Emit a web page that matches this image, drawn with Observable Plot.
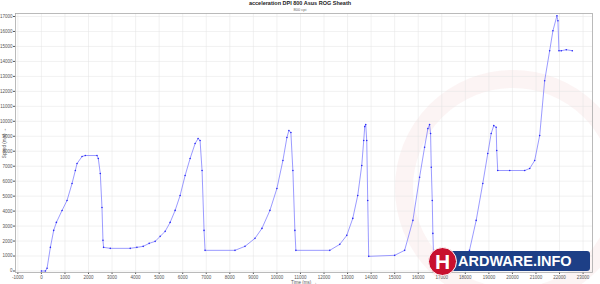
<!DOCTYPE html>
<html><head><meta charset="utf-8">
<script src="https://cdn.jsdelivr.net/npm/d3@7"></script>
<script src="https://cdn.jsdelivr.net/npm/@observablehq/plot@0.6"></script>
<style>
body{margin:0;background:#fff;font-family:"Liberation Sans",Arial,sans-serif}
#wrap{position:relative;width:600px;height:284px;overflow:hidden;background:#fff}
#ring{position:absolute;left:395px;top:70px;width:200px;height:200px;border-radius:50%;border:18px solid rgba(215,100,100,0.07);z-index:0}
#chart{position:absolute;left:0;top:0;z-index:1}
#title{position:absolute;left:0;width:600px;top:0px;text-align:center;font-size:5.5px;font-weight:bold;color:#222;z-index:2}
#sub{position:absolute;left:0;width:600px;top:7px;text-align:center;font-size:4px;color:#666;z-index:2}
#logo{position:absolute;left:442px;top:251px;width:148px;height:20px;background:#1d3f86;border-radius:3px;z-index:3;color:#fff;font-weight:bold;font-size:14.5px;line-height:20px;letter-spacing:0px}
#logo span{position:absolute;left:16px;top:0}
#hc{position:absolute;left:428px;top:247px;width:27px;height:27px;border-radius:50%;background:#c8102e;border:1.5px solid #fff;z-index:4;color:#fff;font-weight:bold;font-size:21px;line-height:27px;text-align:center;font-family:"Liberation Sans",Arial,sans-serif}
</style></head><body>
<div id="wrap">
 <div id="ring"></div>
 <div id="chart"></div>
 <div id="title">acceleration DPI 800 Asus ROG Sheath</div>
 <div id="sub">800 cpi</div>
 <div id="logo"><span>ARDWARE.INFO</span></div>
 <div id="hc">H</div>
</div>
<script>
const timeMs = [0,170,240,381,521,636,877,1089,1301,1441,1513,1725,1864,2360,2415,2500,2572,2614,2640,2924,3771,4055,4322,4576,
4830,5042,5254,5466,5678,5890,6102,6314,6526,6653,6737,6822,6906,6949,8220,
8644,9068,9364,9703,10000,10254,10424,10509,10593,10678,10763,10805,12245,
12669,12966,13220,13432,13602,13686,13729,13771,13814,13856,13898,15000,
15423,15774,16058,16270,16410,16482,16524,16554,16596,16622,16652,17965,
18177,18461,18741,18953,19097,19207,19309,19334,19376,19885,20521,20733,
20945,21157,21369,21581,21720,21890,21932,21975,22076,22288,22542];
const speed = [0,0,180,1580,2713,3246,4046,4713,5846,6713,7180,7646,7713,7713,7513,6513,4246,2046,1580,1513,1513,1580,1646,1846,
1980,2313,2647,3247,4047,5047,6380,7513,8513,8847,8713,6713,2713,1380,1380,
1647,2180,2847,4047,5513,7380,8913,9380,9247,6713,2713,1380,1380,
1780,2380,3513,5047,7047,8713,9647,9780,8713,4713,980,1047,
1380,3380,6267,8267,9513,9780,9180,6933,4713,2513,1047,1047,
1380,3380,5847,7847,9180,9713,9600,8047,6713,6713,6713,6847,
7380,9047,12713,14713,16047,17047,16713,14713,14713,14780,14713];
const xTickValues = [-1000,0,1000,2000,3000,4000,5000,6000,7000,8000,9000,10000,11000,12000,13000,14000,15000,16000,17000,18000,19000,20000,21000,22000,23000];
const yTickValues = [0,1000,2000,3000,4000,5000,6000,7000,8000,9000,10000,11000,12000,13000,14000,15000,16000,17000];

const data = timeMs.map((t,i)=>({t, v: speed[i]}));

const chart = Plot.plot({
  width: 600, height: 284,
  marginTop: 13, marginBottom: 12, marginLeft: 15, marginRight: 8,
  style: {background: "transparent", fontFamily: "Liberation Sans, Arial, sans-serif", fontSize: "4.5px", color: "#555"},
  x: {domain: [-1100, 23400], ticks: xTickValues, tickSize: 2, tickPadding: 1, label: "Time (ms)", labelAnchor: "center", labelOffset: 11, tickFormat: d => String(d)},
  y: {domain: [-100, 17200], ticks: yTickValues, tickSize: 2, tickPadding: 1, label: "Speed (m/s)", labelAnchor: "center", labelOffset: 13, tickFormat: d => String(d)},
  marks: [
    Plot.gridX(xTickValues, {stroke: "#e2e2e2", strokeOpacity: 1, strokeWidth: 0.5}),
    Plot.gridY(yTickValues, {stroke: "#e2e2e2", strokeOpacity: 1, strokeWidth: 0.5}),
    Plot.frame({stroke: "#aaa", strokeWidth: 0.8}),
    Plot.line(data, {x: "t", y: "v", stroke: "#7070ff", strokeWidth: 0.7}),
    Plot.dot(data, {x: "t", y: "v", r: 0.8, fill: "#2b2bf5", stroke: "none"})
  ]
});
document.getElementById("chart").appendChild(chart);
</script>
</body></html>
